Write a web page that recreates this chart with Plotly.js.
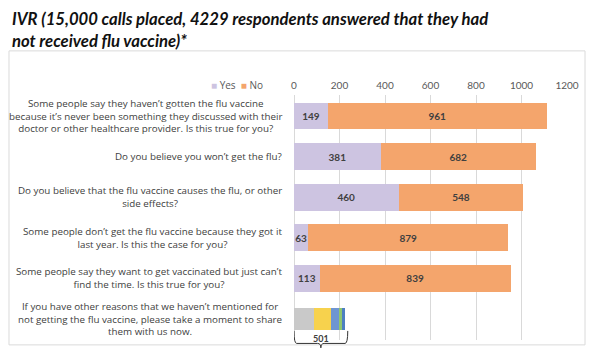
<!DOCTYPE html>
<html>
<head>
<meta charset="utf-8">
<script src="https://cdn.plot.ly/plotly-3.0.1.min.js"></script>
<style>html,body{margin:0;padding:0;background:#fff;}#chart{width:596px;height:348px;}</style>
</head>
<body>
<div id="chart"></div>
<script>
// ---- data ----
const questions = [
  "Some people say they haven’t gotten the flu vaccine<br>because it’s never been something they discussed with their<br>doctor or other healthcare provider. Is this true for you?",
  "Do you believe you won’t get the flu?",
  "Do you believe that the flu vaccine causes the flu, or other<br>side effects?",
  "Some people don’t get the flu vaccine because they got it<br>last year. Is this the case for you?",
  "Some people say they want to get vaccinated but just can’t<br>find the time. Is this true for you?",
  "If you have other reasons that we haven’t mentioned for<br>not getting the flu vaccine, please take a moment to share<br>them with us now."
];
const yesValues = [149, 381, 460, 63, 113, null];
const noValues  = [961, 682, 548, 879, 839, null];
// segments of the "other reasons" bar (estimated, unlabeled in source)
const otherSegments = [88, 73, 38, 13, 13];
const otherColors = ["#c9c9c9", "#f7d24d", "#6e95d2", "#8fc66e", "#4d7fc1"];
const otherRespondents = 501;
const xTicks = [0, 200, 400, 600, 800, 1000, 1200];
const chartTitle = "IVR (15,000 calls placed, 4229 respondents answered that they had<br>not received flu vaccine)*";

const COL_YES = "#cdc4e1";
const COL_NO = "#f4a56c";
const FONT = "Lato";
const LABEL_FONT = "Open Sans";

const traces = [
  {
    type: "bar", orientation: "h", name: "Yes",
    y: questions, x: yesValues,
    marker: {color: COL_YES},
    text: yesValues.map(v => v == null ? "" : String(v)),
    textposition: "inside", insidetextanchor: "middle", constraintext: "none",
    textfont: {family: FONT, size: 10, color: "#404040", weight: "bold"},
    width: 0.66, hoverinfo: "x+name"
  },
  {
    type: "bar", orientation: "h", name: "No",
    y: questions, x: noValues,
    marker: {color: COL_NO},
    text: noValues.map(v => v == null ? "" : String(v)),
    textposition: "inside", insidetextanchor: "middle", constraintext: "none",
    textfont: {family: FONT, size: 10, color: "#404040", weight: "bold"},
    width: 0.66, hoverinfo: "x+name"
  }
];
otherSegments.forEach((v, i) => {
  traces.push({
    type: "bar", orientation: "h", name: "Other " + (i + 1),
    y: [questions[questions.length - 1]], x: [v],
    marker: {color: otherColors[i]},
    width: 0.56, showlegend: false, hoverinfo: "x"
  });
});

const otherTotal = otherSegments.reduce((a, b) => a + b, 0);
const braceEnd = otherTotal * 1.05;
const mid = braceEnd / 2;
const yTop = 0.037, yLine = -0.014, yTip = -0.032;
const bracePath = `M 0,${yTop} Q 0,${yLine} ${braceEnd*0.05},${yLine} L ${mid - braceEnd*0.06},${yLine} Q ${mid},${yLine} ${mid},${yTip} Q ${mid},${yLine} ${mid + braceEnd*0.06},${yLine} L ${braceEnd*0.95},${yLine} Q ${braceEnd},${yLine} ${braceEnd},${yTop}`;

const annotations = questions.map(q => ({
  xref: "paper", yref: "y", x: -0.037, y: q, xanchor: "right", yanchor: "middle",
  align: "center", showarrow: false, text: q,
  font: {family: LABEL_FONT, size: 9.8, color: "#404040"}
}));
annotations.push({
  xref: "paper", yref: "paper", x: -1.04, y: 1.36, xanchor: "left", yanchor: "top",
  align: "left", showarrow: false, text: "<b><i>" + chartTitle + "</i></b>",
  font: {family: FONT, size: 16.7, color: "#111"}
});
annotations.push({
  xref: "paper", yref: "paper", x: -0.31, y: 1.04, xanchor: "left", yanchor: "middle",
  showarrow: false,
  text: `<span style="color:${COL_YES}">■</span> Yes  <span style="color:${COL_NO}">■</span> No`,
  font: {family: LABEL_FONT, size: 10, color: "#595959"}
});
annotations.push({
  xref: "x", yref: "paper", x: mid, y: 0.006, xanchor: "center", yanchor: "middle",
  showarrow: false, text: "<b>" + otherRespondents + "</b>",
  font: {family: FONT, size: 9, color: "#404040"}
});

const layout = {
  width: 596, height: 348,
  margin: {l: 294, r: 29, t: 95, b: 8},
  paper_bgcolor: "#fff", plot_bgcolor: "#fff",
  barmode: "stack", bargap: 0.34, showlegend: false,
  xaxis: {
    side: "top", range: [0, 1200], tickvals: xTicks, ticktext: xTicks.map(String),
    showgrid: true, gridcolor: "#d9d9d9", gridwidth: 1, zeroline: true, zerolinecolor: "#d9d9d9",
    tickfont: {family: FONT, size: 10, color: "#595959"}, fixedrange: true, ticklabelstandoff: 3
  },
  yaxis: {
    type: "category", categoryorder: "array", categoryarray: questions,
    autorange: "reversed", showticklabels: false, showgrid: false, zeroline: false, fixedrange: true
  },
  shapes: [
    {type: "rect", xref: "paper", yref: "paper", x0: -1.044, x1: 1.066, y0: -0.02, y1: 1.18,
     line: {color: "#dadada", width: 1}, layer: "below"},
    {type: "path", xref: "x", yref: "paper", path: bracePath, line: {color: "#333", width: 1}}
  ],
  annotations: annotations
};

Plotly.newPlot("chart", traces, layout, {displayModeBar: false, staticPlot: true});
</script>
</body>
</html>
